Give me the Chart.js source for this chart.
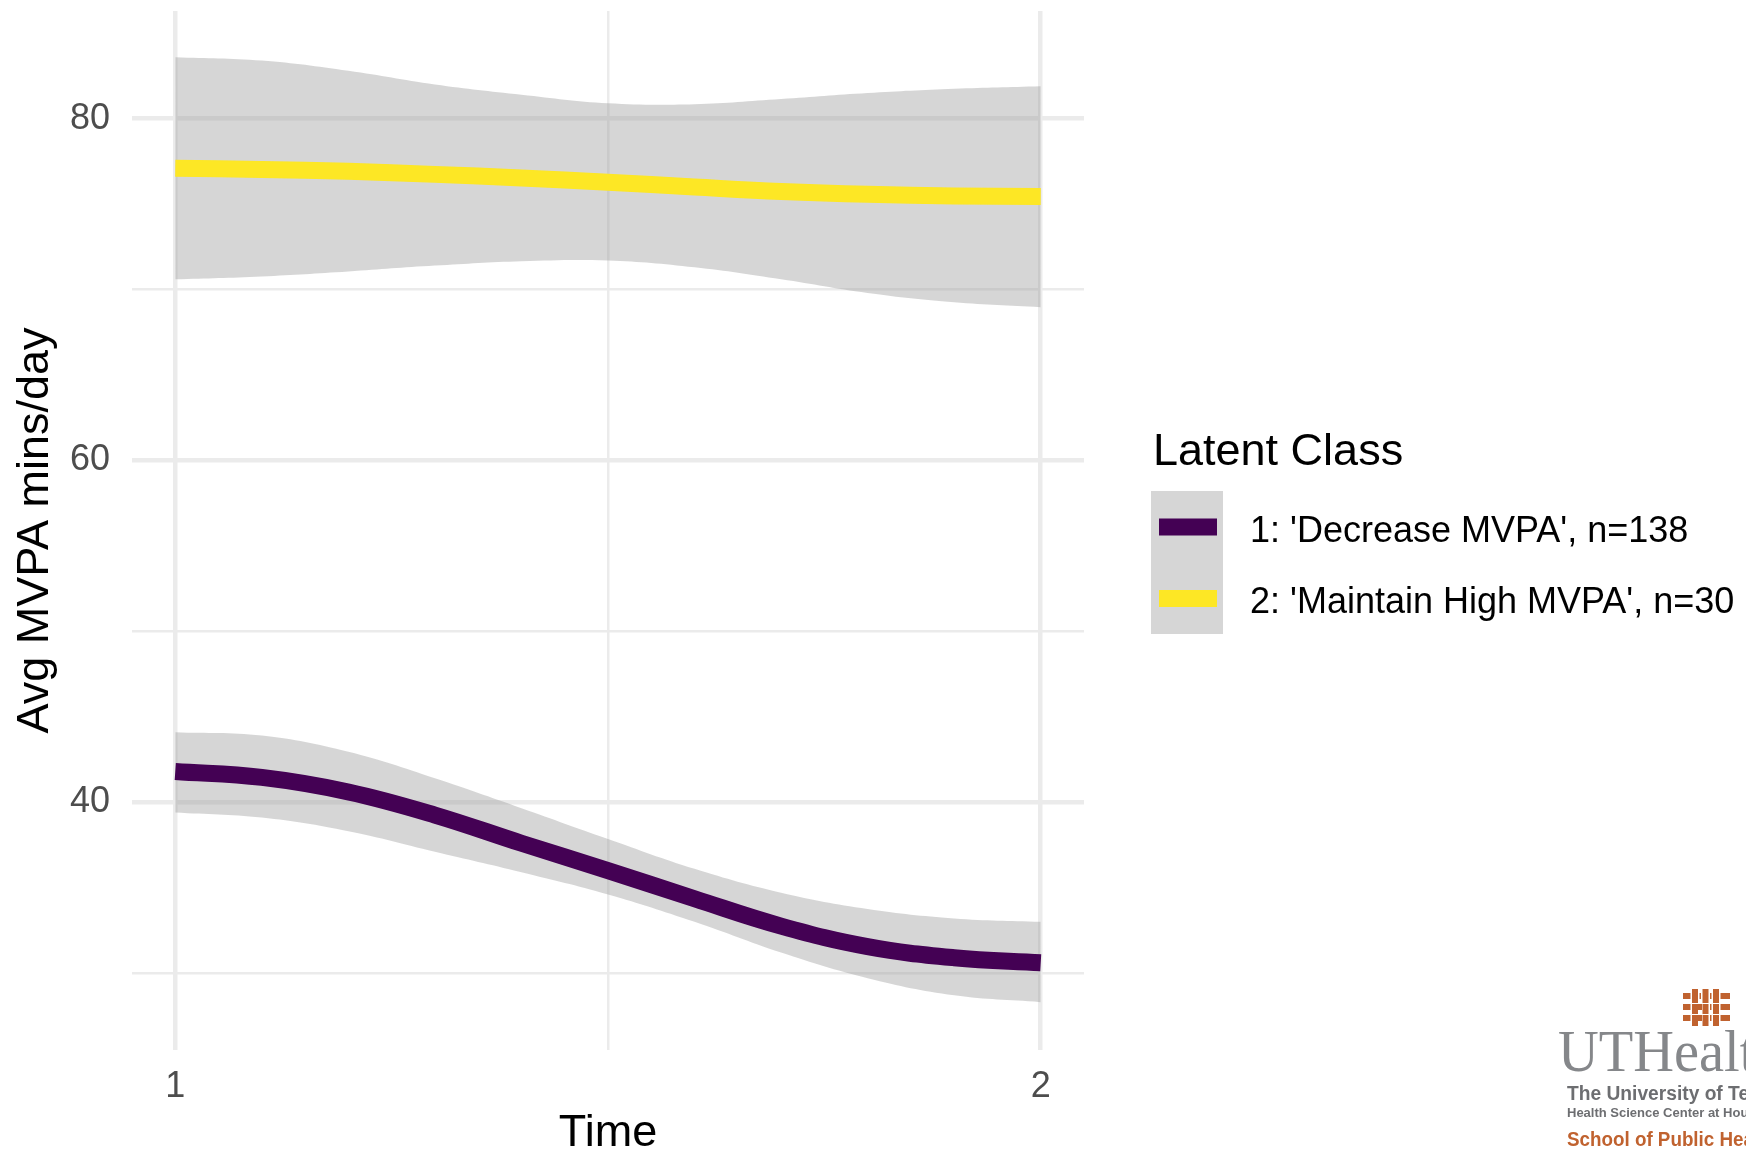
<!DOCTYPE html>
<html>
<head>
<meta charset="utf-8">
<title>Avg MVPA mins/day by latent class</title>
<script src="https://cdn.jsdelivr.net/npm/chart.js@4.4.1/dist/chart.umd.min.js"></script>
<style>
  html, body { margin: 0; padding: 0; background: #ffffff; }
  #wrap { width: 1746px; height: 1153px; position: relative; }
</style>
</head>
<body>
<div id="wrap"><canvas id="chart"></canvas></div>
<script>
// Time points along the fitted trajectories
const times = [1.0, 1.1, 1.2, 1.3, 1.4, 1.5, 1.6, 1.7, 1.8, 1.9, 2.0];

// Class 1: 'Decrease MVPA' (n=138) - fitted mean and confidence band
const decreaseMean  = [41.8, 41.45, 40.6, 39.25, 37.6, 36.0, 34.35, 32.75, 31.55, 30.9, 30.6];
const decreaseUpper = [44.1, 43.9, 42.95, 41.4, 39.65, 37.85, 36.1, 34.7, 33.75, 33.2, 33.0];
const decreaseLower = [39.4, 39.1, 38.3, 37.1, 35.9, 34.6, 33.0, 31.2, 29.7, 28.7, 28.3];

// Class 2: 'Maintain High MVPA' (n=30) - fitted mean and confidence band
const maintainMean  = [77.1, 77.03, 76.92, 76.74, 76.53, 76.28, 76.0, 75.74, 75.57, 75.48, 75.44];
const maintainUpper = [83.6, 83.4, 82.8, 82.0, 81.4, 80.9, 80.85, 81.15, 81.5, 81.75, 81.9];
const maintainLower = [70.6, 70.77, 71.06, 71.4, 71.66, 71.7, 71.3, 70.6, 69.8, 69.25, 68.96];

// Series names and colours (viridis end points)
const classLabels = ["1: 'Decrease MVPA', n=138", "2: 'Maintain High MVPA', n=30"];
const classColors = ['#440154', '#fde725'];
const legendTitle = 'Latent Class';

// Axis ticks: unlabeled entries are minor grid lines
const xTickValues = [1, 1.5, 2];
const xTickLabels = ['1', '', '2'];
const yTickValues = [30, 40, 50, 60, 70, 80];
const yTickLabels = ['', '40', '', '60', '', '80'];

const bandFill = 'rgba(153,153,153,0.4)';
const FONT = '"Liberation Sans", Arial, Helvetica, sans-serif';
const SMOOTH = 0.4;

const pts = (ys) => times.map((t, i) => ({ x: t, y: ys[i] }));

function band(upper, lower) {
  return [
    { data: pts(upper), fill: '+1', backgroundColor: bandFill, borderWidth: 0,
      pointRadius: 0, tension: SMOOTH, order: 2 },
    { data: pts(lower), fill: false, borderWidth: 0,
      pointRadius: 0, tension: SMOOTH, order: 2 }
  ];
}

function meanLine(label, color, ys) {
  return { label, data: pts(ys), isMean: true, borderColor: color, backgroundColor: color,
    borderWidth: 17, borderCapStyle: 'butt', borderJoinStyle: 'round', fill: false,
    pointRadius: 0, tension: SMOOTH, order: 1 };
}

// draw text squeezed horizontally by sx, starting at (x, y)
function squeezedText(ctx, text, x, y, sx) {
  ctx.save();
  ctx.translate(x, y);
  ctx.scale(sx, 1);
  ctx.fillText(text, 0, 0);
  ctx.restore();
}

// Legend with grey key background, plus the school logo in the corner
const sideDecor = {
  id: 'sideDecor',
  afterDraw(chart) {
    const ctx = chart.ctx;
    ctx.save();
    ctx.textAlign = 'left';
    ctx.textBaseline = 'alphabetic';
    ctx.fillStyle = '#000000';
    ctx.font = '45px ' + FONT;
    ctx.fillText(legendTitle, 1153, 465);

    ctx.fillStyle = bandFill;
    ctx.fillRect(1151, 491, 72, 143);
    const means = chart.data.datasets.filter(d => d.isMean);
    means.forEach((d, i) => {
      const cy = 527 + i * 71.5;
      ctx.fillStyle = d.borderColor;
      ctx.fillRect(1159, cy - 8.5, 58, 17);
      ctx.fillStyle = '#000000';
      ctx.font = '36px ' + FONT;
      ctx.fillText(d.label, 1250, cy + 14.5);
    });

    // logo mark: woven lattice
    const orange = '#c0622f';
    ctx.filter = 'blur(0.4px)';
    ctx.fillStyle = orange;
    [993, 1004, 1015].forEach(y => ctx.fillRect(1683, y, 47, 6));
    ctx.fillStyle = '#ffffff';
    [1692, 1702.5, 1713].forEach(x => ctx.fillRect(x - 1.5, 989, 9, 37));
    ctx.fillStyle = orange;
    [1692, 1702.5, 1713].forEach(x => ctx.fillRect(x, 989, 6, 37));
    ctx.fillStyle = '#ffffff';
    ctx.fillRect(1683, 1003, 47, 1);
    ctx.fillRect(1683, 1014, 47, 1);
    ctx.fillStyle = orange;
    [1004, 1015].forEach(y => ctx.fillRect(1698, y, 4, 6));

    ctx.fillStyle = '#85878a';
    ctx.font = '60px "Liberation Serif", "Times New Roman", serif';
    squeezedText(ctx, 'UTHealth', 1558, 1071, 0.94);
    ctx.fillStyle = '#6d6e71';
    ctx.font = 'bold 20px ' + FONT;
    squeezedText(ctx, 'The University of Texas', 1567, 1100, 0.96);
    ctx.font = 'bold 13px ' + FONT;
    ctx.fillText('Health Science Center at Houston', 1567, 1117);
    ctx.fillStyle = orange;
    ctx.font = 'bold 20px ' + FONT;
    squeezedText(ctx, 'School of Public Health', 1567, 1146, 0.94);
    ctx.restore();
  }
};

Chart.defaults.font.family = FONT;

new Chart(document.getElementById('chart'), {
  type: 'line',
  data: {
    datasets: [
      ...band(decreaseUpper, decreaseLower),
      ...band(maintainUpper, maintainLower),
      meanLine(classLabels[0], classColors[0], decreaseMean),
      meanLine(classLabels[1], classColors[1], maintainMean)
    ]
  },
  options: {
    responsive: true,
    maintainAspectRatio: false,
    animation: false,
    devicePixelRatio: 1,
    layout: { padding: { left: 0, top: 11, right: 662, bottom: 0 } },
    plugins: { legend: { display: false }, tooltip: { enabled: false } },
    scales: {
      x: {
        type: 'linear', min: 0.95, max: 2.05,
        afterFit(s) { s.height = 103; s.paddingLeft = 0; s.paddingRight = 0; },
        afterBuildTicks(s) { s.ticks = xTickValues.map(v => ({ value: v })); },
        grid: { color: '#ebebeb', drawTicks: false,
                lineWidth: c => (c.tick && Number.isInteger(c.tick.value)) ? 4.5 : 2.5 },
        border: { display: false },
        ticks: { autoSkip: false, maxRotation: 0, padding: 15, color: '#4d4d4d',
                 font: { size: 36 },
                 callback: v => xTickLabels[xTickValues.indexOf(v)] },
        title: { display: true, text: 'Time', color: '#000000',
                 font: { size: 45, lineHeight: 0.8 }, padding: { top: 0, bottom: 1 } }
      },
      y: {
        type: 'linear', min: 25.5, max: 86.3,
        afterFit(s) { s.width = 132; s.paddingTop = 0; s.paddingBottom = 0; },
        afterBuildTicks(s) { s.ticks = yTickValues.map(v => ({ value: v })); },
        grid: { color: '#ebebeb', drawTicks: false,
                lineWidth: c => (c.tick && c.tick.value % 20 === 0) ? 4.5 : 2.5 },
        border: { display: false },
        ticks: { padding: 22, color: '#4d4d4d', font: { size: 36 },
                 callback: v => yTickLabels[yTickValues.indexOf(v)] },
        title: { display: true, text: 'Avg MVPA mins/day', color: '#000000',
                 font: { size: 45, lineHeight: 1.2 }, padding: { top: 9, bottom: 0 } }
      }
    }
  },
  plugins: [sideDecor]
});
</script>
</body>
</html>
